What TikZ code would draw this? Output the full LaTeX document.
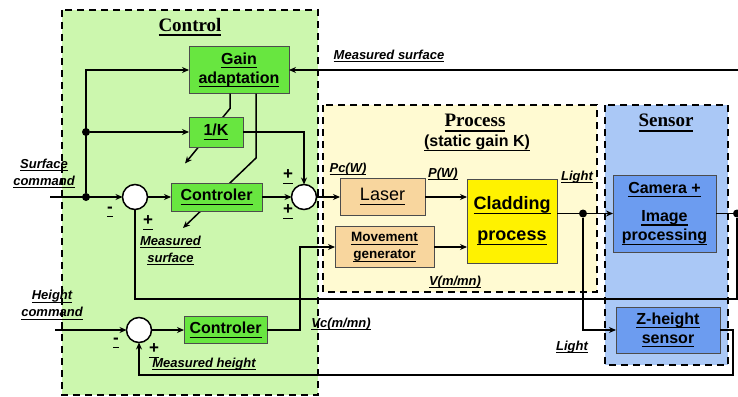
\documentclass[tikz,border=0pt]{standalone}
\usepackage{fontspec}
\setmainfont{Liberation Sans}
\newfontfamily\ttlfont{Liberation Serif}
\usetikzlibrary{arrows.meta,positioning,calc}
\definecolor{cCtl} {HTML}{CCF7AE}
\definecolor{cGrn} {HTML}{68E640}
\definecolor{cPrc} {HTML}{FFFAD2}
\definecolor{cTan} {HTML}{F8D69E}
\definecolor{cYel} {HTML}{FFF200}
\definecolor{cSen} {HTML}{AAC8F6}
\definecolor{cBlu} {HTML}{6C9CF0}
\newsavebox{\ulbox}
\newcommand{\uln}[1]{\leavevmode\sbox{\ulbox}{#1}%
  \rlap{\vrule height -0.17em depth 0.245em width\wd\ulbox}\usebox{\ulbox}}
\tikzset{
  blk/.style   ={draw=black!70,line width=1pt,align=center,inner sep=0pt,
                 font=\fontsize{16}{19.2}\selectfont\bfseries},
  gblk/.style  ={blk,fill=cGrn},
  tblk/.style  ={blk,fill=cTan},
  yblk/.style  ={blk,fill=cYel},
  bblk/.style  ={blk,fill=cBlu},
  grp/.style   ={line width=1.8pt,dash pattern=on 7pt off 5pt},
  ttl/.style   ={font=\fontsize{19}{22}\selectfont\ttlfont\bfseries},
  lbl/.style   ={font=\fontsize{13}{17}\selectfont\bfseries\itshape,align=center,inner sep=0pt},
  sgn/.style   ={font=\fontsize{17}{19}\selectfont\bfseries,inner sep=0pt},
  sumc/.style  ={circle,draw,fill=white,line width=1.5pt,minimum size=25pt,inner sep=0pt},
  dotc/.style  ={circle,fill=black,minimum size=8pt,inner sep=0pt},
  wire/.style  ={draw=black,line width=1.5pt},
  sig/.style   ={wire,-{Stealth[length=7pt,width=6pt]}},
}

\begin{document}
\begin{tikzpicture}[x=1pt,y=-1pt,every node/.style={outer sep=0pt}]
\useasboundingbox (0,0) rectangle (738,396);

% ---------------- regions -------------------------------------------------
\draw[grp,fill=cCtl] (62,10) rectangle (318,395);
\draw[grp,fill=cPrc] (323,105) rectangle (597,292);
\draw[grp,fill=cSen] (605,105) rectangle (728,365);
\node[ttl] (tCtl) at (190,27) {\uln{Control}};
\node[ttl] (tPrc) at (475,123) {\uln{Process}};
\node[blk,draw=none] (tGain) at (477,143) {\uln{(static gain K)}};
\node[ttl] (tSen) at (666,123) {\uln{Sensor}};

% ---------------- control -------------------------------------------------
\node[gblk,minimum width=100pt,minimum height=47pt] (gain) at (239,70)
  {\uln{Gain}\\\uln{adaptation}};
% gain adjustments (drawn below the blocks)
\draw[sig] ([xshift=-9pt]gain.south) -- ++(0,15) -- ++(-45,55);
\draw[sig] ([xshift=17pt]gain.south) -- ++(0,64.5) -- ++(-73,70);
\node[gblk,minimum width=54pt,minimum height=30pt] (invk) at (216,132) {\uln{1/K}};
\node[gblk,minimum width=91pt,minimum height=28pt] (ctl1) at (216.5,197) {\uln{Controler}};
\node[gblk,minimum width=83pt,minimum height=27pt] (ctl2) at (225.5,330) {\uln{Controler}};
\node[sumc] (s1) at (135,197) {};
\node[sumc] (s2) at (304,197) {};
\node[sumc] (s3) at (139,330) {};
\node[dotc] (d1) at (86,132) {};
\node[dotc] (d2) at (86,197) {};
\foreach \n/\x/\y/\t in {m1/110/212/-,p1/148/223/+,a2/288/177/+,b2/288/212/+,
                          m3/116/343/-,p3/154/351/+}
  {\node[sgn] (\n) at (\x,\y) {\uln{\t}};}

% ---------------- process and sensor --------------------------------------
\node[tblk,font=\fontsize{18}{21}\selectfont,minimum width=85pt,minimum height=37pt]
  (laser) at (382.5,197) {\uln{Laser}};
\node[tblk,font=\fontsize{13.5}{16.5}\selectfont\bfseries,minimum width=99pt,
      minimum height=41pt] (move) at (384.5,247) {\uln{Movement}\\\uln{generator}};
\node[yblk,font=\fontsize{18}{21}\selectfont\bfseries,minimum width=90pt,
      minimum height=84pt] (clad) at (512,221) {\uln{Cladding}\\[10pt]\uln{process}};
\node[bblk,minimum width=103pt,minimum height=77pt] (cam) at (664.5,213.5)
  {\uln{Camera +}\\[9pt]\uln{Image}\\\uln{processing}};
\node[bblk,minimum width=104pt,minimum height=46pt] (zh) at (668,330)
  {\uln{Z-height}\\\uln{sensor}};
\node[dotc] (d3) at (583,213.5) {};
\node[dotc] (d4) at (737,213.5) {};

% ---------------- signal labels -------------------------------------------
\node[lbl] (lSc) at (44,173.5) {\uln{Surface}\\\uln{command}};
\node[lbl] (lHc) at (52,305) {\uln{Height}\\\uln{command}};
\node[lbl] (lMs) at (170.5,250.5) {\uln{Measured}\\\uln{surface}};
\node[lbl] (lMh) at (204,364) {\uln{Measured height}};
\node[lbl] (lMt) at (389,56) {\uln{Measured surface}};
\node[lbl] (lVc) at (341,324) {\uln{Vc(m/mn)}};
\node[lbl] (lPc) at (348,169) {\uln{Pc(W)}};
\node[lbl] (lP)  at (443,174) {\uln{P(W)}};
\node[lbl] (lL1) at (577,177) {\uln{Light}};
\node[lbl] (lV)  at (455,282) {\uln{V(m/mn)}};
\node[lbl] (lL2) at (572,347) {\uln{Light}};

% ---------------- connectors ----------------------------------------------
\coordinate (sc) at (50,197);
\coordinate (hc) at (55,330);
\coordinate (ms) at (738,70);
\coordinate (vb) at (300,330);
\coordinate (rs) at (737,299);
\coordinate (zr) at (733,375);
\draw[sig] (sc) -- (s1.west);
\draw[sig] (d2) |- (gain.west);
\draw[sig] (d1) -- (invk.west);
\draw[sig] (s1) -- (ctl1);
\draw[sig] (ctl1) -- (s2);
\draw[sig] (invk.east) -| (s2.north);
\draw[sig] (s2) -- (laser);
\draw[sig] (ms) -- (gain.east);
\draw[sig] (hc) -- (s3.west);
\draw[sig] (s3) -- (ctl2);
\draw[sig] (ctl2.east) -- (vb) |- (move.west);
\draw[sig] (laser.east) -- (laser.east -| clad.west);
\draw[sig] (move.east) -- (move.east -| clad.west);
\draw[sig] (d3 -| clad.east) -- (cam.west);
\draw[sig] (d3) |- (zh.west);
\draw[wire] (cam.east) -- (d4) -- (rs) -| (s1.south);
\draw[sig] (zh.east) -| (zr) -| (s3.south);
\end{tikzpicture}
\end{document}
